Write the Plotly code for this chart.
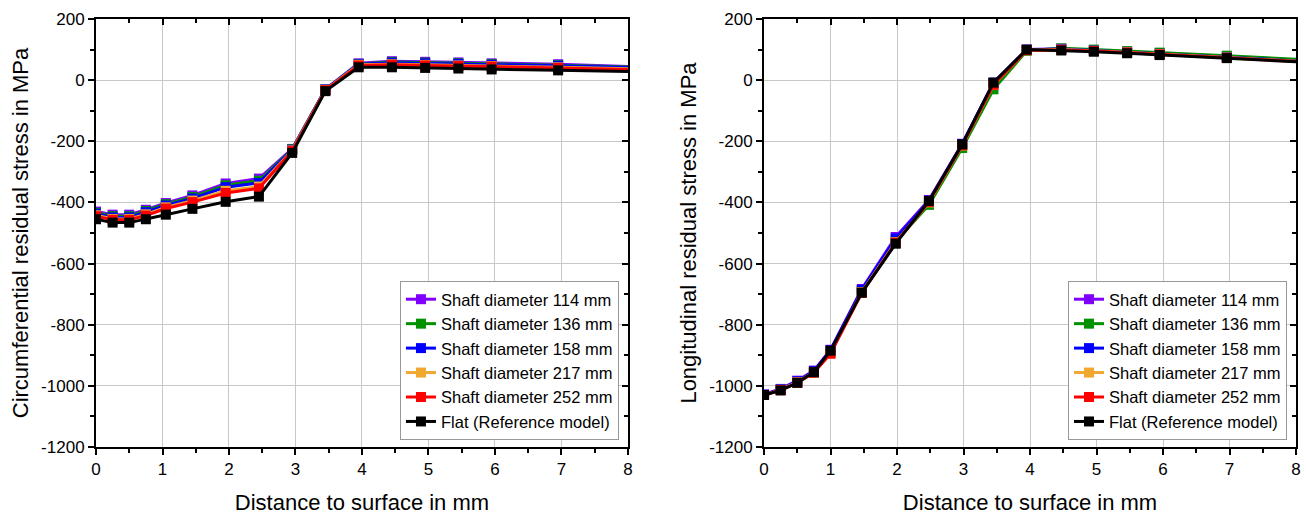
import plotly.graph_objects as go

# ---------------- data ----------------
x_circ = [0.0, 0.25, 0.5, 0.75, 1.05, 1.45, 1.95, 2.45, 2.95, 3.45, 3.95, 4.45, 4.95, 5.45, 5.95, 6.95, 8.0]
circ_114 = [-430, -440, -440, -424, -402, -377, -338, -322, -225, -30, 55, 62, 60, 58, 55, 52, 45]
circ_136 = [-434, -445, -445, -428, -406, -382, -344, -329, -226, -31, 53, 59, 57, 55, 52, 49, 43]
circ_158 = [-437, -449, -449, -432, -410, -387, -350, -336, -228, -31, 52, 57, 55, 53, 50, 47, 41]
circ_217 = [-442, -454, -454, -439, -416, -394, -362, -348, -230, -32, 50, 52, 50, 48, 46, 42, 37]
circ_252 = [-445, -457, -457, -443, -420, -399, -369, -354, -232, -33, 48, 50, 48, 46, 44, 40, 35]
circ_flat = [-455, -466, -466, -455, -440, -421, -398, -381, -238, -36, 42, 42, 40, 38, 35, 32, 28]

x_long = [0.0, 0.25, 0.5, 0.75, 1.0, 1.47, 1.98, 2.48, 2.98, 3.45, 3.95, 4.47, 4.96, 5.46, 5.95, 6.96, 8.0]
long_114 = [-1028, -1010, -983, -950, -882, -683, -513, -392, -208, -8, 100, 103, 98, 93, 87, 76, 64]
long_136 = [-1030, -1013, -988, -956, -890, -692, -528, -408, -222, -30, 96, 104, 100, 95, 90, 80, 68]
long_158 = [-1029, -1011, -985, -952, -884, -686, -518, -395, -210, -10, 99, 102, 97, 92, 86, 75, 63]
long_217 = [-1030, -1013, -988, -955, -890, -693, -530, -400, -214, -16, 98, 100, 96, 91, 85, 74, 62]
long_252 = [-1030, -1014, -990, -957, -895, -696, -532, -398, -213, -15, 98, 99, 95, 90, 84, 73, 61]
long_flat = [-1030, -1015, -990, -955, -885, -695, -535, -395, -210, -8, 100, 97, 93, 88, 82, 72, 60]

names = ["Shaft diameter 114 mm", "Shaft diameter 136 mm", "Shaft diameter 158 mm",
         "Shaft diameter 217 mm", "Shaft diameter 252 mm", "Flat (Reference model)"]
colors = ["#7f00ff", "#009000", "#0000ff", "#f0a830", "#ff0000", "#000000"]

circ = [circ_114, circ_136, circ_158, circ_217, circ_252, circ_flat]
longi = [long_114, long_136, long_158, long_217, long_252, long_flat]

x_ticks = [0, 1, 2, 3, 4, 5, 6, 7, 8]
x_ticktext = ["0", "1", "2", "3", "4", "5", "6", "7", "8"]
y_ticks = [-1200, -1000, -800, -600, -400, -200, 0, 200]
y_ticktext = ["-1200", "-1000", "-800", "-600", "-400", "-200", "0", "200"]

FONT = "Liberation Sans, Arial, sans-serif"

fig = go.Figure()


def add_series(xs, ys, i, xa, ya, leg):
    # line segment to the edge point (no marker drawn at the axis edge)
    fig.add_trace(go.Scatter(
        x=xs[-2:], y=ys[-2:], mode="lines", line=dict(color=colors[i], width=3),
        xaxis=xa, yaxis=ya, showlegend=False, hoverinfo="skip"))
    fig.add_trace(go.Scatter(
        x=xs[:-1], y=ys[:-1], name=names[i], mode="lines+markers",
        line=dict(color=colors[i], width=3),
        marker=dict(symbol="square", size=10, color=colors[i]),
        xaxis=xa, yaxis=ya, legend=leg))


for i in range(6):
    add_series(x_circ, circ[i], i, "x", "y", "legend")
for i in range(6):
    add_series(x_long, longi[i], i, "x2", "y2", "legend2")

# empty traces to activate the mirror (top/right) axes with inside ticks
fig.add_trace(go.Scatter(x=[], y=[], xaxis="x3", yaxis="y3", showlegend=False, hoverinfo="skip"))
fig.add_trace(go.Scatter(x=[], y=[], xaxis="x4", yaxis="y4", showlegend=False, hoverinfo="skip"))

tickfont = dict(family=FONT, size=17, color="#000")
titlefont = dict(family=FONT, size=22, color="#000")

def xax(domain, anchor, title):
    return dict(domain=domain, anchor=anchor, range=[0, 8], tickvals=x_ticks, ticktext=x_ticktext,
                automargin=False,
                showgrid=True, gridcolor="#c8c8c8", gridwidth=1, zeroline=False,
                showline=True, linecolor="#000", linewidth=2,
                ticks="outside", ticklen=6, tickwidth=2, tickcolor="#000",
                minor=dict(dtick=0.5, ticks="outside", ticklen=4, tickwidth=2,
                           tickcolor="#000", showgrid=False),
                tickfont=tickfont, title=dict(text=title, font=titlefont, standoff=16))

def yax(anchor, title):
    return dict(anchor=anchor, domain=[0, 1], range=[-1200, 200], tickvals=y_ticks, ticktext=y_ticktext,
                automargin=False,
                showgrid=True, gridcolor="#c8c8c8", gridwidth=1, zeroline=False,
                showline=True, linecolor="#000", linewidth=2,
                ticks="outside", ticklen=6, tickwidth=2, tickcolor="#000",
                minor=dict(dtick=100, ticks="outside", ticklen=4, tickwidth=2,
                           tickcolor="#000", showgrid=False),
                tickfont=tickfont, title=dict(text=title, font=titlefont, standoff=6))

def xmirror(over, anchor):
    return dict(overlaying=over, anchor=anchor, side="top", range=[0, 8], tickvals=x_ticks,
                automargin=False,
                showgrid=False, zeroline=False, showline=True, linecolor="#000", linewidth=2,
                ticks="inside", ticklen=6, tickwidth=2, tickcolor="#000", showticklabels=False,
                minor=dict(dtick=0.5, ticks="inside", ticklen=4, tickwidth=2, tickcolor="#000",
                           showgrid=False))

def ymirror(over, anchor):
    return dict(overlaying=over, anchor=anchor, side="right", range=[-1200, 200], tickvals=y_ticks,
                automargin=False,
                showgrid=False, zeroline=False, showline=True, linecolor="#000", linewidth=2,
                ticks="inside", ticklen=6, tickwidth=2, tickcolor="#000", showticklabels=False,
                minor=dict(dtick=100, ticks="inside", ticklen=4, tickwidth=2, tickcolor="#000",
                           showgrid=False))

legfont = dict(family=FONT, size=16.5, color="#000")

fig.update_layout(
    width=1306, height=515,
    margin=dict(l=96, r=10, t=19, b=68, autoexpand=False),
    paper_bgcolor="white", plot_bgcolor="white",
    font=dict(family=FONT, color="#000"),
    xaxis=xax([0, 0.4433], "y", "Distance to surface in mm"),
    yaxis=yax("x", "Circumferential residual stress in MPa"),
    xaxis2=xax([0.5567, 1.0], "y2", "Distance to surface in mm"),
    yaxis2=yax("x2", "Longitudinal residual stress in MPa"),
    xaxis3=xmirror("x", "y3"),
    yaxis3=ymirror("y", "x3"),
    xaxis4=xmirror("x2", "y4"),
    yaxis4=ymirror("y2", "x4"),
    legend=dict(x=0.4358, y=0.0164, xanchor="right", yanchor="bottom",
                bgcolor="white", bordercolor="#999", borderwidth=1,
                font=legfont, tracegroupgap=0, itemwidth=30),
    legend2=dict(x=0.9925, y=0.0164, xanchor="right", yanchor="bottom",
                 bgcolor="white", bordercolor="#999", borderwidth=1,
                 font=legfont, tracegroupgap=0, itemwidth=30),
    showlegend=True,
)

fig.write_html("out.html")
